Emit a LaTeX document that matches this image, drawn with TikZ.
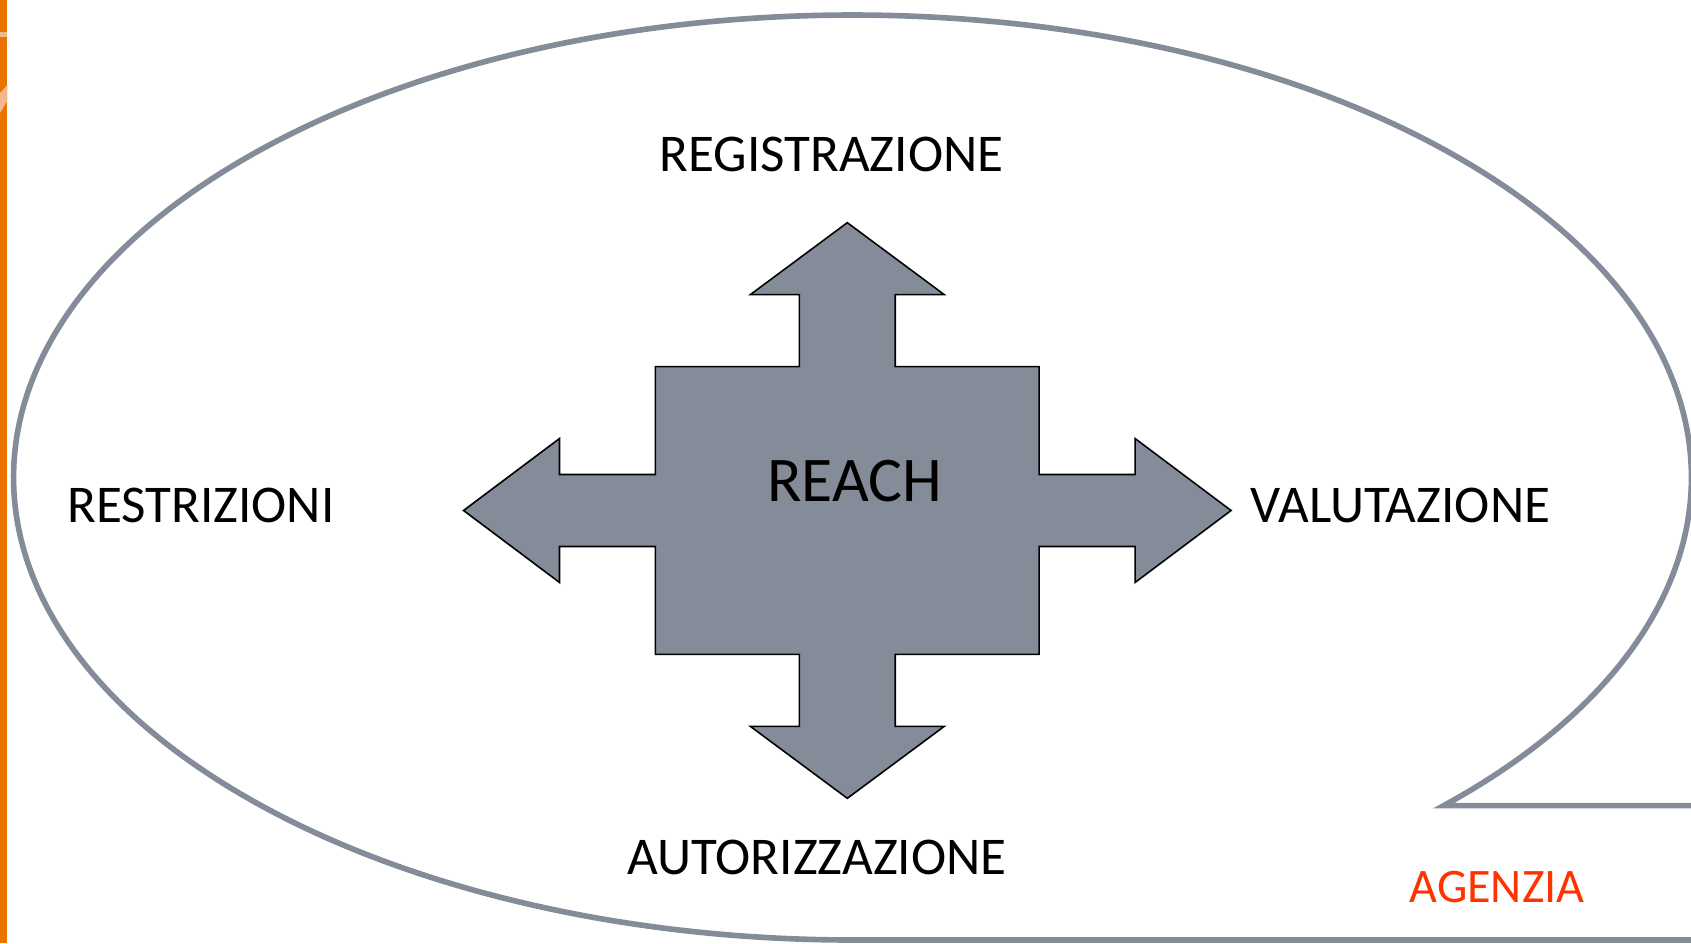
\documentclass[tikz,border=0pt]{standalone}
\usepackage{fontspec}
\setmainfont{Carlito}
\usetikzlibrary{positioning,calc}
\definecolor{reachGrey}{RGB}{132, 140, 154}
\definecolor{reachOrange}{RGB}{235, 115, 0}
\definecolor{reachLightOrange}{RGB}{240, 185, 140}
\definecolor{reachRed}{RGB}{255, 51, 0}

\begin{document}
\begin{tikzpicture}[
  phase/.style={font=\fontsize{15.1}{18}\selectfont, inner sep=0pt},
  agency/.style={font=\fontsize{13.7}{16}\selectfont, text=reachRed, inner sep=0pt},
  bubble/.style={draw=reachGrey, line width=1.6pt},
  cross/.style={fill=reachGrey, draw=black, line width=0.45pt, line join=miter}
]
\clip (0,0) rectangle (16.91,9.43);
% left edge strip
\fill[reachOrange] (0,0) rectangle (0.073,9.43);
\fill[reachLightOrange] (0,9.06) rectangle (0.073,9.11);
\fill[reachLightOrange] (0,8.30) -- (0.073,8.42) -- (0.073,8.58) -- (0,8.50) -- cycle;

% outer bubble, its lower right corner opened up
\coordinate (tip) at ($(8.525,4.655)+(-45.2:8.39 and 4.625)$);
\draw[bubble] (tip -| 17.2,0) -- (tip)
  arc[start angle=-45.2, end angle=270, x radius=8.39, y radius=4.625] -- (17.2,0.03);

% four-way arrow round the centre
\coordinate (hub) at (8.473,4.325);
\begin{scope}[shift={(hub)}, x=0.01cm, y=0.01cm]
\draw[cross] (0,288) -- (97,216) -- (48,216) -- (48,144) -- (192,144) -- (192,36)
  -- (288,36) -- (288,72) -- (384,0) -- (288,-72) -- (288,-36) -- (192,-36)
  -- (192,-144) -- (48,-144) -- (48,-216) -- (97,-216) -- (0,-288) -- (-97,-216)
  -- (-48,-216) -- (-48,-144) -- (-192,-144) -- (-192,-36) -- (-288,-36)
  -- (-288,-72) -- (-384,0) -- (-288,72) -- (-288,36) -- (-192,36) -- (-192,144)
  -- (-48,144) -- (-48,216) -- (-97,216) -- cycle;
\end{scope}

\node[font=\fontsize{18.1}{21}\selectfont, inner sep=0pt] (reach) at (8.547,4.62) {REACH};
\node[phase] (registrazione) at (8.315,7.89) {REGISTRAZIONE};
\node[phase] (restrizioni) at (2.01,4.372) {RESTRIZIONI};
\node[phase] (valutazione) at (14.004,4.372) {VALUTAZIONE};
\node[phase] (autorizzazione) at (8.17,0.86) {AUTORIZZAZIONE};
\node[agency] (agenzia) at (14.97,0.563) {AGENZIA};
\end{tikzpicture}
\end{document}
